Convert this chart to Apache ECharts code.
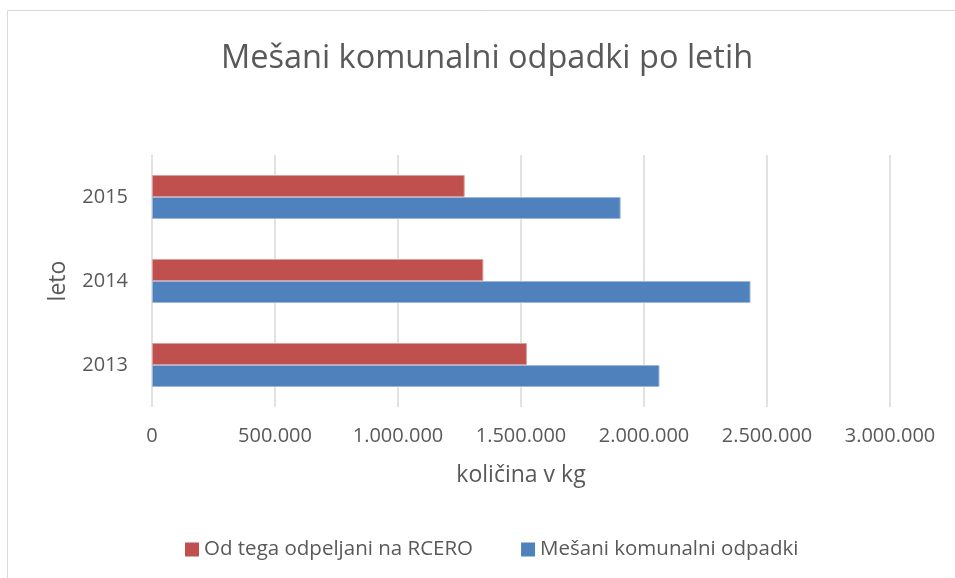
<!DOCTYPE html>
<html>
<head>
<meta charset="utf-8">
<script src="https://cdn.jsdelivr.net/npm/echarts@6/dist/echarts.min.js"></script>
<style>
html,body{margin:0;padding:0;background:#fff;}
#chart{width:955px;height:578px;}
</style>
</head>
<body>
<div id="chart"></div>
<script>
var years = ['2013', '2014', '2015'];
var odpeljaniRcero = [1524000, 1347000, 1271000];
var mesaniKomunalni = [2063000, 2433000, 1905000];
var seriesNames = ['Od tega odpeljani na RCERO', 'Mešani komunalni odpadki'];
var xTicks = { min: 0, max: 3000000, interval: 500000 };

var FONT = '"Open Sans", sans-serif';
var TXT = '#595959';

function fmt(v) {
  return String(v).replace(/\B(?=(\d{3})+(?!\d))/g, '.');
}

var chart = echarts.init(document.getElementById('chart'));
chart.setOption({
  backgroundColor: '#ffffff',
  animation: false,
  textStyle: { fontFamily: FONT },
  title: {
    text: 'Mešani komunalni odpadki po letih',
    left: 216,
    top: 37,
    textStyle: { fontFamily: FONT, fontSize: 32.5, fontWeight: 'normal', color: TXT }
  },
  graphic: [{
    type: 'rect',
    shape: { x: 7.5, y: 10.5, width: 1000, height: 1000 },
    style: { fill: 'none', stroke: '#D9D9D9', lineWidth: 1 },
    silent: true
  }],
  legend: {
    data: seriesNames,
    bottom: 13,
    left: 180,
    itemWidth: 14,
    itemHeight: 14,
    itemGap: 48,
    icon: 'rect',
    itemStyle: { borderWidth: 0 },
    textStyle: { fontFamily: FONT, fontSize: 20.5, color: TXT, padding: [0, 0, 0, 0] }
  },
  grid: { left: 152, right: 65, top: 155, bottom: 171, containLabel: false },
  xAxis: {
    type: 'value',
    min: xTicks.min,
    max: xTicks.max,
    interval: xTicks.interval,
    name: 'količina v kg',
    nameLocation: 'middle',
    nameGap: 57,
    nameTextStyle: { fontFamily: FONT, fontSize: 23, color: TXT },
    axisLine: { show: false },
    axisTick: { show: false },
    axisLabel: { fontFamily: FONT, fontSize: 20, color: TXT, margin: 19, formatter: fmt },
    splitLine: { show: true, lineStyle: { color: '#D9D9D9', width: 1.5 } }
  },
  yAxis: {
    type: 'category',
    data: years,
    name: 'leto',
    nameLocation: 'middle',
    nameGap: 82,
    nameRotate: 90,
    nameTextStyle: { fontFamily: FONT, fontSize: 23, color: TXT },
    axisLine: { show: false },
    axisTick: { show: false },
    axisLabel: { fontFamily: FONT, fontSize: 20, color: TXT, margin: 24 },
    splitLine: { show: false }
  },
  series: [{
    name: seriesNames[0],
    type: 'bar',
    data: odpeljaniRcero,
    barCategoryGap: '47.6%',
    barGap: '0%',
    itemStyle: { color: '#C0504D', borderColor: '#DB9C9A', borderWidth: 1 }
  }, {
    name: seriesNames[1],
    type: 'bar',
    data: mesaniKomunalni,
    barCategoryGap: '47.6%',
    barGap: '0%',
    itemStyle: { color: '#4F81BD', borderColor: '#9DB8DB', borderWidth: 1 }
  }]
});
</script>
</body>
</html>
